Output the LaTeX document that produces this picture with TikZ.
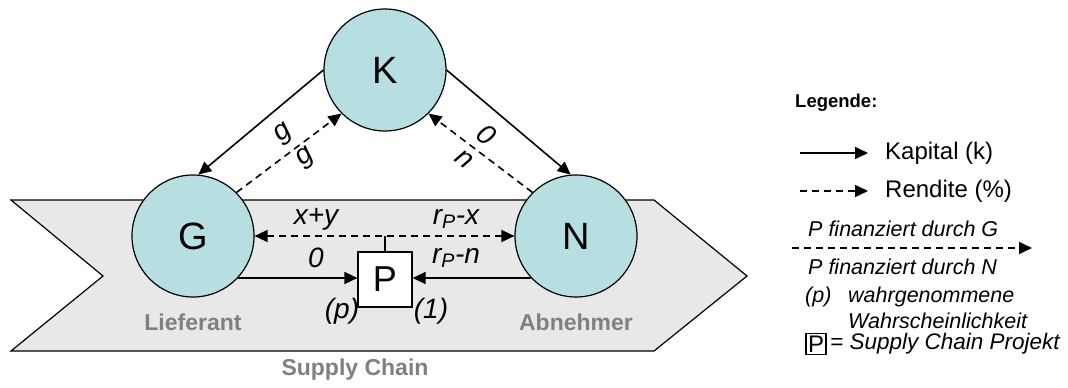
\documentclass[tikz,border=0pt]{standalone}
\usepackage{fontspec}
\setmainfont{Liberation Sans}
\usetikzlibrary{arrows.meta}
\definecolor{circfill}{RGB}{183,223,226}
\definecolor{chainfill}{RGB}{232,232,232}
\definecolor{graytext}{RGB}{128,128,128}
\tikzset{
  actor/.style={circle,draw=black,line width=1.2pt,fill=circfill,minimum size=122pt,inner sep=0pt,font=\fontsize{38}{40}\selectfont},
  projbox/.style={draw=black,line width=1.2pt,fill=white,minimum width=54pt,minimum height=55pt,inner sep=0pt,font=\fontsize{36}{38}\selectfont},
  tip/.style={Triangle[length=13pt,width=12pt]},
  capital/.style={line width=1.6pt,-{Triangle[length=13pt,width=12pt]}},
  yield/.style={line width=1.6pt,dash pattern=on 7pt off 5pt,-{Triangle[length=13pt,width=12pt]}},
  lbl/.style={font=\fontsize{28}{30}\selectfont\itshape,inner sep=0pt},
  graylbl/.style={font=\fontsize{23}{25}\selectfont\bfseries,text=graytext,inner sep=0pt},
  legtext/.style={font=\fontsize{24}{26}\selectfont,inner sep=0pt,anchor=west},
  legit/.style={font=\fontsize{21.5}{23}\selectfont\itshape,inner sep=0pt,anchor=west},
}
\begin{document}
\begin{tikzpicture}[x=1pt,y=-1pt]
\useasboundingbox (0,0) rectangle (1068,388);
% supply chain chevron
\draw[fill=chainfill,line width=1.2pt,line join=miter]
  (11,200) -- (654,200) -- (747,276) -- (654,351) -- (11,351) -- (103,276) -- cycle;
\node[graylbl] (sc) at (355,370) {Supply Chain};
% actors
\node[actor] (K) at (385,70) {K};
\node[actor] (G) at (193,236) {G};
\node[actor] (N) at (576,236) {N};
\node[projbox] (P) at (385,279.5) {P};
\node[graylbl] (lief) at (193,322) {Lieferant};
\node[graylbl] (abn) at (576,322) {Abnehmer};
% capital flows
\draw[capital] (K.west) -- (G.85);
\draw[capital] (K.east) -- (N.95);
\draw[capital] (G.-43) -- (G.-43 -| P.west);
\draw[capital] (N.223) -- (N.223 -| P.east);
% yield flows
\draw[yield] (G.45) -- (K.225);
\draw[yield] (N.135) -- (K.315);
\draw[yield,{Triangle[length=13pt,width=12pt]}-{Triangle[length=13pt,width=12pt]}] (G.east) -- (N.west);
\coordinate (tick) at (G.east -| P.north);
\draw[line width=1.5pt] (tick) -- (P.north);
% labels
\node[lbl,rotate=37] (g1) at (284,134) {g};
\node[lbl,rotate=37] (g2) at (306,158) {g};
\node[lbl,rotate=-38] (o1) at (487,135) {0};
\node[lbl,rotate=-38] (n1) at (464,159) {n};
\node[lbl] (xy) at (316,219) {x+y};
\node[lbl] (rpx) at (456,219) {r\textsubscript{P}-x};
\node[lbl] (zero) at (316,258) {0};
\node[lbl] (rpn) at (456,258) {r\textsubscript{P}-n};
\node[lbl] (pp) at (342,311) {(p)};
\node[lbl] (one) at (431,311) {(1)};
% legend
\node[legtext,font=\fontsize{18.5}{20}\selectfont\bfseries] (leg) at (795,103) {Legende:};
\coordinate (k1) at (800,153);
\coordinate (k2) at (868,153);
\draw[capital] (k1) -- (k2);
\node[legtext] (kap) at (885,153) {Kapital (k)};
\coordinate (r1) at (800,191);
\coordinate (r2) at (868,191);
\draw[yield] (r1) -- (r2);
\node[legtext] (ren) at (885,191) {Rendite (\%)};
\node[legit] (pg) at (808,229) {P finanziert durch G};
\coordinate (f1) at (792,248);
\coordinate (f2) at (1032,248);
\draw[yield] (f1) -- (f2);
\node[legit] (pn) at (808,267) {P finanziert durch N};
\node[legit] (pl) at (805,297) {(p)};
\node[legit] (wg) at (848,297) {wahrgenommene};
\node[legit] (ws) at (848,321) {Wahrscheinlichkeit};
\node[draw=black,line width=1.2pt,minimum width=20pt,minimum height=21pt,inner sep=0pt,font=\fontsize{24}{26}\selectfont] (lp) at (816,344) {P};
\node[legit,font=\fontsize{22.5}{24}\selectfont\itshape] (scp) at (830,344) {= Supply Chain Projekt};
\end{tikzpicture}
\end{document}
